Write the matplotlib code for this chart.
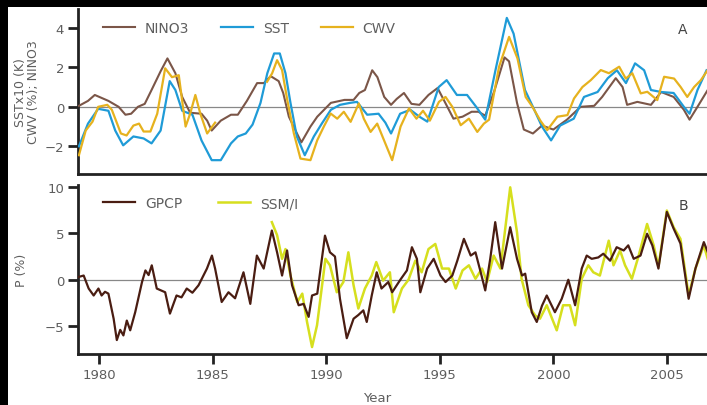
import numpy as np
import matplotlib.pyplot as plt
from matplotlib.patches import Rectangle

# (year, value)
nino3 = [(1979.1, 0.05), (1979.5, 0.3), (1979.8, 0.6), (1980.4, 0.3), (1980.85, 0.0),
         (1981.15, -0.4), (1981.4, -0.35), (1981.7, 0.0), (1982.0, 0.15), (1982.3, 0.85),
         (1982.7, 1.8), (1983.0, 2.45), (1983.35, 1.7), (1983.65, 0.5), (1984.0, -0.3),
         (1984.5, -0.35), (1984.75, -0.7), (1984.95, -1.2), (1985.35, -0.7), (1985.8, -0.4),
         (1986.1, -0.4), (1986.5, 0.3), (1986.95, 1.2), (1987.25, 1.2), (1987.55, 1.55),
         (1987.9, 1.3), (1988.1, 0.7), (1988.35, -0.5), (1988.6, -1.1), (1988.9, -1.8),
         (1989.3, -1.0), (1989.6, -0.5), (1990.2, 0.2), (1990.8, 0.35), (1991.2, 0.35),
         (1991.45, 0.7), (1991.7, 0.85), (1992.02, 1.85), (1992.25, 1.5), (1992.55, 0.5),
         (1992.85, 0.1), (1993.1, 0.4), (1993.42, 0.7), (1993.75, 0.15), (1994.1, 0.1),
         (1994.5, 0.6), (1994.9, 0.95), (1995.15, 0.4), (1995.6, -0.6), (1996.0, -0.5),
         (1996.4, -0.25), (1996.7, -0.25), (1997.0, -0.45), (1997.4, 0.8), (1997.85, 2.5),
         (1998.05, 2.3), (1998.4, 0.2), (1998.7, -1.15), (1999.1, -1.35), (1999.5, -0.95),
         (2000.0, -1.15), (2000.6, -0.65), (2001.2, 0.0), (2001.8, 0.05), (2002.15, 0.5),
         (2002.75, 1.45), (2003.05, 1.0), (2003.25, 0.1), (2003.7, 0.25), (2004.3, 0.1),
         (2004.75, 0.75), (2005.3, 0.5), (2005.75, -0.15), (2006.0, -0.65), (2006.35, 0.0),
         (2006.8, 0.85)]

sst = [(1979.1, -2.0), (1979.5, -0.85), (1979.95, -0.1), (1980.4, -0.2), (1980.7, -1.2),
       (1981.05, -1.95), (1981.5, -1.5), (1981.95, -1.6), (1982.3, -1.85), (1982.7, -1.2),
       (1983.1, 1.3), (1983.35, 0.85), (1983.65, -0.2), (1984.1, -0.4), (1984.5, -1.7),
       (1984.95, -2.7), (1985.35, -2.7), (1985.8, -1.85), (1986.1, -1.5), (1986.45, -1.35),
       (1986.75, -0.9), (1987.1, 0.2), (1987.4, 1.7), (1987.7, 2.7), (1987.95, 2.7),
       (1988.2, 1.7), (1988.42, 0.2), (1988.7, -1.5), (1989.05, -2.45), (1989.45, -1.5),
       (1989.8, -0.85), (1990.2, -0.15), (1990.6, 0.1), (1991.05, 0.2), (1991.35, 0.25),
       (1991.8, -0.4), (1992.3, -0.35), (1992.6, -0.8), (1992.85, -1.35), (1993.25, -0.35),
       (1993.7, -0.15), (1994.1, -0.5), (1994.45, -0.75), (1994.95, 1.0), (1995.3, 1.35),
       (1995.75, 0.6), (1996.2, 0.6), (1996.6, 0.0), (1997.0, -0.65), (1997.45, 1.85),
       (1997.95, 4.5), (1998.25, 3.7), (1998.75, 0.85), (1999.1, 0.0), (1999.5, -1.0),
       (1999.9, -1.7), (2000.3, -0.95), (2000.9, -0.6), (2001.35, 0.5), (2001.95, 0.75),
       (2002.4, 1.45), (2002.8, 1.85), (2003.2, 1.2), (2003.6, 2.2), (2004.0, 1.85),
       (2004.3, 0.85), (2004.75, 0.75), (2005.3, 0.7), (2005.75, 0.0), (2006.0, -0.35),
       (2006.35, 0.85), (2006.75, 1.85)]

# CWV has no data between the two satellite records
cwv = [(1979.1, -2.45), (1979.4, -1.2), (1979.7, -0.75), (1979.95, 0.0), (1980.35, 0.1),
       (1980.55, -0.15), (1980.95, -1.35), (1981.2, -1.45), (1981.5, -0.95), (1981.75, -0.85),
       (1981.95, -1.25), (1982.25, -1.25), (1982.55, -0.35), (1982.9, 1.95), (1983.2, 1.5),
       (1983.5, 1.6), (1983.8, -1.0), (1984.0, -0.35), (1984.23, 0.6), (1984.45, -0.35),
       (1984.75, -1.35), (1985.1, -0.8), (1986.0, np.nan),
       (1987.39, 1.27), (1987.61, 1.69), (1987.83, 2.36), (1988.05, 1.86), (1988.28, 0.34),
       (1988.57, -1.35), (1988.86, -2.62), (1989.3, -2.7), (1989.6, -1.69), (1989.89, -1.0),
       (1990.19, -0.34), (1990.48, -0.6), (1990.77, -0.25), (1991.07, -0.76), (1991.43, 0.17),
       (1991.65, -0.6), (1991.95, -1.27), (1992.24, -0.85), (1992.54, -1.69), (1992.9, -2.7),
       (1993.27, -1.0), (1993.64, -0.08), (1993.97, -0.6), (1994.26, -0.2), (1994.56, -0.7),
       (1994.96, 0.25), (1995.25, 0.5), (1995.55, 0.0), (1995.92, -0.93), (1996.28, -0.6),
       (1996.65, -1.27), (1996.94, -0.85), (1997.17, -0.65), (1997.61, 2.03), (1998.05, 3.54),
       (1998.42, 2.45), (1998.78, 0.5), (1999.08, 0.0), (1999.44, -0.72), (1999.73, -1.18),
       (2000.18, -0.5), (2000.62, -0.42), (2000.91, 0.42), (2001.28, 1.0), (2001.65, 1.35),
       (2002.09, 1.86), (2002.45, 1.7), (2002.9, 2.03), (2003.19, 1.43), (2003.48, 1.7),
       (2003.85, 0.68), (2004.14, 0.76), (2004.58, 0.34), (2004.88, 1.52), (2005.32, 1.43),
       (2005.61, 1.0), (2005.9, 0.5), (2006.2, 1.0), (2006.5, 1.35), (2006.8, 1.86)]

gpcp = [(1979.09, 0.3), (1979.31, 0.45), (1979.53, -0.95), (1979.75, -1.7), (1979.96, -0.95),
        (1980.1, -1.7), (1980.25, -1.3), (1980.4, -1.5), (1980.63, -4.2), (1980.77, -6.5),
        (1980.92, -5.4), (1981.06, -6.0), (1981.21, -4.4), (1981.36, -5.45), (1981.58, -3.5),
        (1981.88, -0.25), (1982.03, 1.0), (1982.17, 0.5), (1982.31, 1.55), (1982.53, -0.95),
        (1982.9, -1.35), (1983.11, -3.65), (1983.4, -1.7), (1983.62, -1.9), (1983.85, -0.95),
        (1984.1, -1.4), (1984.37, -0.6), (1984.74, 1.2), (1984.96, 2.6), (1985.1, 1.2),
        (1985.39, -2.4), (1985.69, -1.35), (1985.98, -2.0), (1986.35, 0.8), (1986.65, -2.6),
        (1986.94, 2.6), (1987.24, 1.2), (1987.6, 5.3), (1987.83, 2.95), (1988.05, 0.45),
        (1988.27, 3.15), (1988.49, -0.6), (1988.78, -2.75), (1989.0, -2.6), (1989.22, -4.0),
        (1989.37, -1.7), (1989.6, -1.5), (1989.94, 4.75), (1990.16, 2.95), (1990.38, 2.5),
        (1990.6, -2.05), (1990.9, -6.3), (1991.2, -4.2), (1991.41, -3.8), (1991.63, -3.3),
        (1991.78, -4.55), (1992.0, -1.7), (1992.22, 0.8), (1992.43, -0.95), (1992.73, -0.25),
        (1992.9, -1.35), (1993.26, 0.0), (1993.55, 1.0), (1993.77, 3.5), (1993.99, 2.25),
        (1994.14, -1.35), (1994.44, 1.2), (1994.73, 2.25), (1995.03, 0.45), (1995.25, -0.25),
        (1995.55, 0.45), (1995.77, 2.05), (1996.06, 4.4), (1996.36, 2.6), (1996.57, 2.95),
        (1996.8, 0.8), (1997.0, -1.15), (1997.22, 2.25), (1997.44, 6.2), (1997.74, 1.2),
        (1998.1, 5.65), (1998.4, 2.25), (1998.62, 0.45), (1998.76, 0.65), (1999.05, -3.5),
        (1999.27, -4.55), (1999.5, -2.8), (1999.71, -1.7), (2000.07, -3.5), (2000.37, -2.05),
        (2000.66, 0.0), (2000.96, -2.75), (2001.25, 1.2), (2001.47, 2.6), (2001.69, 2.25),
        (2001.98, 2.4), (2002.2, 2.8), (2002.5, 2.05), (2002.79, 3.5), (2003.1, 3.15),
        (2003.3, 3.7), (2003.54, 2.25), (2003.84, 2.6), (2004.13, 4.95), (2004.36, 3.7),
        (2004.63, 1.2), (2005.0, 7.3), (2005.3, 5.5), (2005.6, 3.9), (2005.96, -2.05),
        (2006.26, 1.2), (2006.63, 4.05), (2006.8, 3.0)]

ssmi = [(1987.6, 6.2), (1987.83, 4.8), (1988.05, 2.25), (1988.2, 3.3), (1988.42, 0.45),
        (1988.72, -2.4), (1988.94, -1.5), (1989.15, -4.55), (1989.37, -7.25), (1989.59, -4.9),
        (1989.96, 2.25), (1990.16, 1.55), (1990.46, -1.35), (1990.75, -0.25), (1990.97, 2.95),
        (1991.2, -0.6), (1991.41, -3.1), (1991.7, -0.95), (1992.0, 0.45), (1992.2, 1.9),
        (1992.5, -0.1), (1992.8, 0.8), (1992.97, -3.5), (1993.33, -0.95), (1993.62, 0.0),
        (1993.92, 2.05), (1994.2, 0.8), (1994.5, 3.3), (1994.8, 3.85), (1995.1, 1.2),
        (1995.4, 1.2), (1995.7, -0.95), (1996.0, 1.0), (1996.28, 1.55), (1996.57, 0.1),
        (1996.86, 1.2), (1997.08, -0.25), (1997.37, 2.6), (1997.67, 1.2), (1998.1, 9.95),
        (1998.4, 5.1), (1998.6, 0.1), (1998.9, -2.75), (1999.2, -3.85), (1999.41, -4.2),
        (1999.71, -2.75), (2000.15, -5.45), (2000.43, -2.75), (2000.73, -2.75), (2000.96, -4.9),
        (2001.25, 0.1), (2001.54, 1.55), (2001.76, 0.8), (2002.05, 0.45), (2002.44, 4.2),
        (2002.65, 1.55), (2002.94, 3.15), (2003.16, 1.55), (2003.46, 0.1), (2003.76, 2.6),
        (2004.13, 6.0), (2004.42, 3.7), (2004.63, 1.4), (2005.0, 7.45), (2005.3, 5.65),
        (2005.6, 4.4), (2005.96, -1.7), (2006.26, 1.2), (2006.63, 3.7), (2006.8, 2.25)]

year_ticks = [1980, 1985, 1990, 1995, 2000, 2005]

W, H = 707, 406
fig = plt.figure(figsize=(W / 100, H / 100), dpi=100, facecolor='black')
# white page with a black strip at the top and left
fig.patches.append(Rectangle((8 / W, 0), 1, (H - 8) / H, transform=fig.transFigure,
                             facecolor='white', edgecolor='none', zorder=-10))

gray = '#5e5e5e'
x0, x1 = 78, 707
ax1 = fig.add_axes([x0 / W, (H - 175) / H, (x1 - x0) / W, (175 - 10) / H])
ax2 = fig.add_axes([x0 / W, (H - 355) / H, (x1 - x0) / W, (355 - 186) / H])

for ax in (ax1, ax2):
    ax.set_facecolor('white')
    for s in ('top', 'right'):
        ax.spines[s].set_visible(False)
    for s in ('left', 'bottom'):
        ax.spines[s].set_linewidth(2)
        ax.spines[s].set_color('#222222')
    ax.axhline(0, color='#888888', lw=0.9, zorder=1)
    ax.set_xlim(1979.06, 1979.06 + (x1 - x0) / 22.7)
    ax.tick_params(axis='both', direction='out', length=7, width=2, color='#222222',
                   labelsize=9.5, labelcolor=gray, pad=3)

def xy(series):
    a = np.array(series, dtype=float)
    return a[:, 0], a[:, 1]

t, v = xy(nino3)
ax1.plot(t, v, color='#7b5648', lw=1.5, label='NINO3', zorder=3)
t, v = xy(sst)
ax1.plot(t, v, color='#1f9bd7', lw=1.6, label='SST', zorder=4)
t, v = xy(cwv)
ax1.plot(t, v, color='#e6b21e', lw=1.6, label='CWV', zorder=5)

ax1.set_ylim(-3.4, 4.95)
ax1.set_yticks([-2, 0, 2, 4])
ax1.tick_params(axis='x', bottom=False, labelbottom=False)
ax1.set_ylabel('SSTx10 (K)\nCWV (%); NINO3', fontsize=9, color=gray, linespacing=1.0)
ax1.yaxis.set_label_coords(-(x0 - 40) / (x1 - x0), 0.5)
ax1.text(0.962, 0.879, 'A', transform=ax1.transAxes, fontsize=10, color='#444444',
         ha='center', va='center')
leg = ax1.legend(loc='center left', bbox_to_anchor=(0.04, 0.885), ncol=3, frameon=False,
                 fontsize=10, handlelength=2.3, handletextpad=0.7, columnspacing=2.3,
                 borderpad=0, borderaxespad=0)
for txt in leg.get_texts():
    txt.set_color(gray)

t, v = xy(ssmi)
ax2.plot(t, v, color='#d6df1e', lw=1.8, label='SSM/I', zorder=3)
t, v = xy(gpcp)
ax2.plot(t, v, color='#4a1d12', lw=1.6, label='GPCP', zorder=4)

ax2.set_ylim(-8.0, 10.2)
ax2.set_yticks([-5, 0, 5, 10])
ax2.set_xticks(year_ticks)
ax2.set_ylabel('P (%)', fontsize=9, color=gray)
ax2.yaxis.set_label_coords(-(x0 - 28) / (x1 - x0), 0.5)
ax2.text(0.962, 0.882, 'B', transform=ax2.transAxes, fontsize=10, color='#444444',
         ha='center', va='center')
h, l = ax2.get_legend_handles_labels()
leg = ax2.legend(h[::-1], l[::-1], loc='center left', bbox_to_anchor=(0.04, 0.893), ncol=2,
                 frameon=False, fontsize=10, handlelength=2.3, handletextpad=0.7,
                 columnspacing=2.6, borderpad=0, borderaxespad=0)
for txt in leg.get_texts():
    txt.set_color(gray)

fig.text(377 / W, (H - 399) / H, 'Year', fontsize=9.5, color=gray, ha='center', va='center')

fig.savefig('out.png', dpi=100, facecolor=fig.get_facecolor())
